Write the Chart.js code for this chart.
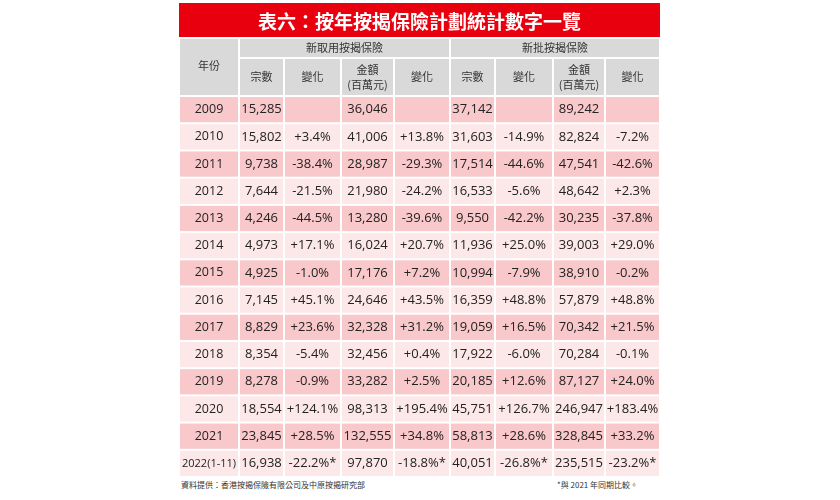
<!DOCTYPE html>
<html><head><meta charset="utf-8">
<script src="https://cdn.jsdelivr.net/npm/chart.js@4.4.0/dist/chart.umd.min.js"></script>
<style>
body{margin:0;background:#fff;width:840px;height:500px;position:relative;font-family:"Noto Sans CJK TC",sans-serif}
#wrap{position:absolute;left:179px;top:3px;width:481px;height:474px}
.foot{position:absolute;top:479px;font-size:8px;color:#333}
</style></head><body>
<div id="wrap"><canvas id="c"></canvas></div>
<div class="foot" style="left:181px">資料提供：香港按揭保險有限公司及中原按揭研究部</div>
<div class="foot" style="left:557px">*與 2021 年同期比較。</div>
<script>
const title = "表六：按年按揭保險計劃統計數字一覽";
const groupHeaders = ["新取用按揭保險", "新批按揭保險"];
const subHeaders = ["宗數", "變化", "金額\n(百萬元)", "變化", "宗數", "變化", "金額\n(百萬元)", "變化"];
const years = ["2009","2010","2011","2012","2013","2014","2015","2016","2017","2018","2019","2020","2021","2022(1-11)"];
const newCases = ["15,285","15,802","9,738","7,644","4,246","4,973","4,925","7,145","8,829","8,354","8,278","18,554","23,845","16,938"];
const newCasesChg = ["","+3.4%","-38.4%","-21.5%","-44.5%","+17.1%","-1.0%","+45.1%","+23.6%","-5.4%","-0.9%","+124.1%","+28.5%","-22.2%*"];
const newAmt = ["36,046","41,006","28,987","21,980","13,280","16,024","17,176","24,646","32,328","32,456","33,282","98,313","132,555","97,870"];
const newAmtChg = ["","+13.8%","-29.3%","-24.2%","-39.6%","+20.7%","+7.2%","+43.5%","+31.2%","+0.4%","+2.5%","+195.4%","+34.8%","-18.8%*"];
const apprCases = ["37,142","31,603","17,514","16,533","9,550","11,936","10,994","16,359","19,059","17,922","20,185","45,751","58,813","40,051"];
const apprCasesChg = ["","-14.9%","-44.6%","-5.6%","-42.2%","+25.0%","-7.9%","+48.8%","+16.5%","-6.0%","+12.6%","+126.7%","+28.6%","-26.8%*"];
const apprAmt = ["89,242","82,824","47,541","48,642","30,235","39,003","38,910","57,879","70,342","70,284","87,127","246,947","328,845","235,515"];
const apprAmtChg = ["","-7.2%","-42.6%","+2.3%","-37.8%","+29.0%","-0.2%","+48.8%","+21.5%","-0.1%","+24.0%","+183.4%","+33.2%","-23.2%*"];
const columns = [years,newCases,newCasesChg,newAmt,newAmtChg,apprCases,apprCasesChg,apprAmt,apprAmtChg];

// layout (scale units)
const colEdges = [0,60,105,162,215,271,316,374,426,481];
const titleH = 35, groupH = 20, subH = 38, rowH = 27.2;
const dataTop = titleH + groupH + subH;

const tablePlugin = {
  id:'table',
  afterDraw(chart){
    const ctx = chart.ctx, X = chart.scales.x, Y = chart.scales.y;
    const px = v => X.getPixelForValue(v), py = v => Y.getPixelForValue(v);
    const g = 1;
    function cell(x0,x1,y0,y1,fill){ctx.fillStyle=fill;ctx.fillRect(px(x0)+g,py(y0)+g,px(x1)-px(x0)-2*g,py(y1)-py(y0)-2*g);}
    function text(t,x,y,font,color){ctx.font=font;ctx.fillStyle=color;ctx.textAlign='center';ctx.textBaseline='middle';
      const lines=t.split('\n');lines.forEach((l,i)=>ctx.fillText(l,px(x),py(y)+(i-(lines.length-1)/2)*15));}
    ctx.save();
    // title
    ctx.fillStyle='#e8000e';ctx.fillRect(px(0),py(0),px(481)-px(0),py(titleH)-py(0)-1);
    text(title,240.5,titleH/2+1,'bold 19px "Noto Sans CJK TC"','#fff');
    const grey='#d9d9d9', hf='11px "Noto Sans CJK TC"';
    cell(0,colEdges[1],titleH,dataTop,grey);
    text('年份',colEdges[1]/2,titleH+28,hf,'#333');
    cell(colEdges[1],colEdges[5],titleH,titleH+groupH,grey);
    cell(colEdges[5],colEdges[9],titleH,titleH+groupH,grey);
    text(groupHeaders[0],(colEdges[1]+colEdges[5])/2,titleH+groupH/2,hf,'#333');
    text(groupHeaders[1],(colEdges[5]+colEdges[9])/2,titleH+groupH/2,hf,'#333');
    subHeaders.forEach((h,i)=>{cell(colEdges[i+1],colEdges[i+2],titleH+groupH,dataTop,grey);
      text(h,(colEdges[i+1]+colEdges[i+2])/2,titleH+groupH+subH/2,hf,'#333');});
    years.forEach((y,r)=>{
      const y0=dataTop+r*rowH, y1=y0+rowH, fill=r%2===0?'#f9c8ca':'#fde8e9';
      columns.forEach((col,c)=>{
        cell(colEdges[c],colEdges[c+1],y0,y1,fill);
        const f = c===0 ? (r===13?'11px "Open Sans"':'12.5px "Open Sans"') : '13px "Open Sans"';
        text(col[r],(colEdges[c]+colEdges[c+1])/2,(y0+y1)/2,f,'#222');
      });
    });
    ctx.restore();
  }
};
new Chart(document.getElementById('c'),{
  type:'scatter',
  data:{datasets:[{data:[]}]},
  options:{responsive:true,maintainAspectRatio:false,animation:false,
    layout:{padding:0},
    plugins:{legend:{display:false},tooltip:{enabled:false}},
    scales:{x:{type:'linear',min:0,max:481,display:false},
            y:{type:'linear',min:0,max:dataTop+years.length*rowH,reverse:true,display:false}}},
  plugins:[tablePlugin]
});
</script></body></html>
